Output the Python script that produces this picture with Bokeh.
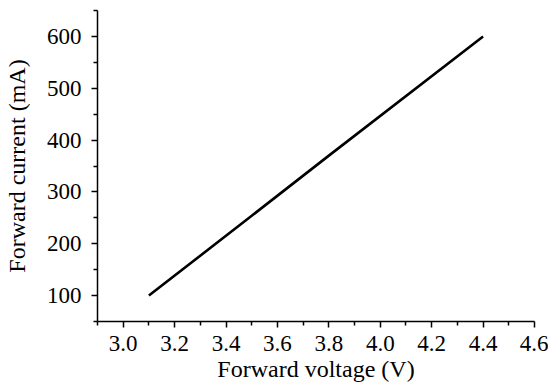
from bokeh.plotting import figure
from bokeh.models import FixedTicker, Range1d, PrintfTickFormatter
from bokeh.embed import file_html
from bokeh.resources import INLINE

# Data
voltage = [3.1, 3.5, 3.8, 4.4]
current = [100, 254, 370, 600]

x_major = [3.0, 3.2, 3.4, 3.6, 3.8, 4.0, 4.2, 4.4, 4.6]
x_minor = [2.9, 3.1, 3.3, 3.5, 3.7, 3.9, 4.1, 4.3, 4.5]
x_label_format = "%.1f"
y_major = [100, 200, 300, 400, 500, 600]
y_minor = [50, 150, 250, 350, 450, 550, 650]

FONT = "'Liberation Serif'"

p = figure(output_backend="svg", toolbar_location=None,
           frame_width=437, frame_height=311,
           x_range=Range1d(2.9, 4.6), y_range=Range1d(50, 650),
           min_border_left=97, min_border_right=14, min_border_top=10,
           min_border_bottom=66)
p.outline_line_color = None
p.xgrid.visible = False
p.ygrid.visible = False
p.background_fill_color = "white"
p.border_fill_color = "white"

p.line(voltage, current, line_color="black", line_width=2.6)

xa = p.xaxis[0]
xa.ticker = FixedTicker(ticks=x_major, minor_ticks=x_minor)
xa.formatter = PrintfTickFormatter(format=x_label_format)
xa.axis_label = "Forward voltage (V)"

ya = p.yaxis[0]
ya.ticker = FixedTicker(ticks=y_major, minor_ticks=y_minor)
ya.axis_label = "Forward current (mA)"

for ax in (xa, ya):
    ax.axis_line_color = "black"
    ax.axis_line_width = 1.5
    ax.major_tick_line_color = "black"
    ax.minor_tick_line_color = "black"
    ax.major_tick_line_width = 1.5
    ax.minor_tick_line_width = 1.5
    ax.major_tick_out = 6
    ax.major_tick_in = 0
    ax.minor_tick_out = 4
    ax.minor_tick_in = 0
    ax.major_label_text_font = FONT
    ax.major_label_text_font_size = "23px"
    ax.major_label_text_color = "black"
    ax.axis_label_text_font = FONT
    ax.axis_label_text_font_size = "24px"
    ax.axis_label_text_font_style = "normal"
    ax.axis_label_text_color = "black"

xa.major_label_text_font = "'Liberation Serif', serif"
xa.major_label_standoff = 8
xa.axis_label_standoff = 2
ya.major_label_standoff = 10
ya.axis_label_standoff = 14

open("out.html", "w").write(file_html(p, INLINE))
